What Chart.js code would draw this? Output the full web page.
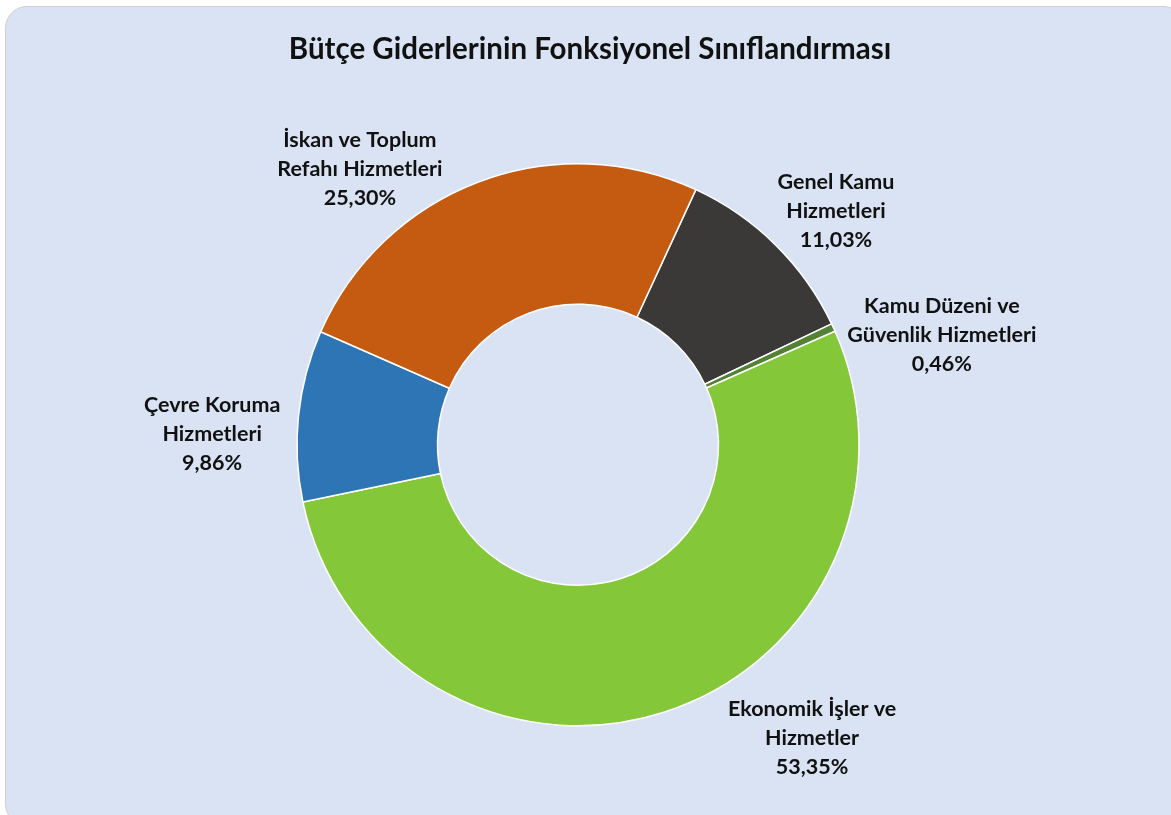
<!DOCTYPE html>
<html lang="tr">
<head>
<meta charset="utf-8">
<title>Bütçe Giderlerinin Fonksiyonel Sınıflandırması</title>
<script src="https://cdn.jsdelivr.net/npm/chart.js@4/dist/chart.umd.min.js"></script>
<style>
  html, body { margin: 0; padding: 0; background: #ffffff; }
  .wrap { position: relative; width: 1171px; height: 815px; overflow: hidden; }
  .panel {
    position: absolute; left: 5px; top: 6px; width: 1180px; height: 820px;
    box-sizing: border-box; background: #dae3f3;
    border: 1.5px solid #d0d0d0; border-radius: 22px;
  }
  canvas { position: absolute; left: 0; top: 0; }
</style>
</head>
<body>
<div class="wrap">
  <div class="panel"></div>
  <canvas id="chart" width="1171" height="815"></canvas>
</div>
<script>
const chartTitle = 'Bütçe Giderlerinin Fonksiyonel Sınıflandırması';

const categories = [
  ['Genel Kamu', 'Hizmetleri'],
  ['Kamu Düzeni ve', 'Güvenlik Hizmetleri'],
  ['Ekonomik İşler ve', 'Hizmetler'],
  ['Çevre Koruma', 'Hizmetleri'],
  ['İskan ve Toplum', 'Refahı Hizmetleri'],
];
const shares = [11.03, 0.46, 53.35, 9.86, 25.30];
const sliceColors = ['#3b3838', '#548235', '#84c83a', '#2e75b6', '#c55a11'];

// where each label block sits, as (dx, dy) in units of the outer radius from the centre
const labelSpots = [
  [0.918, -0.833],
  [1.295, -0.391],
  [0.833, 1.043],
  [-1.302, -0.039],
  [-0.776, -0.982],
];

const fontFamily = 'Lato, "Open Sans", sans-serif';

const pct = v => v.toFixed(2).replace('.', ',') + '%';

const titlePlugin = {
  id: 'panelTitle',
  afterDraw(chart) {
    const ctx = chart.ctx;
    ctx.save();
    ctx.font = 'bold 29.5px ' + fontFamily;
    ctx.fillStyle = '#111111';
    ctx.textAlign = 'center';
    ctx.textBaseline = 'middle';
    ctx.fillText(chartTitle, 590, 49);
    ctx.restore();
  }
};

const sliceLabels = {
  id: 'sliceLabels',
  afterDatasetsDraw(chart) {
    const ctx = chart.ctx;
    const meta = chart.getDatasetMeta(0);
    const lineGap = 29;
    ctx.save();
    ctx.font = 'bold 21.5px ' + fontFamily;
    ctx.fillStyle = '#111111';
    ctx.textAlign = 'center';
    ctx.textBaseline = 'middle';
    meta.data.forEach((arc, i) => {
      const r = arc.outerRadius;
      const cx = arc.x + labelSpots[i][0] * r;
      const cy = arc.y + labelSpots[i][1] * r;
      const lines = categories[i].concat([pct(shares[i])]);
      const top = cy - (lines.length - 1) * lineGap / 2;
      lines.forEach((t, k) => ctx.fillText(t, cx, top + k * lineGap));
    });
    ctx.restore();
  }
};

new Chart(document.getElementById('chart'), {
  type: 'doughnut',
  data: {
    labels: categories,
    datasets: [{
      data: shares,
      backgroundColor: sliceColors,
      borderColor: '#ffffff',
      borderWidth: 1.5,
      hoverOffset: 0,
    }],
  },
  options: {
    responsive: false,
    animation: false,
    cutout: '50%',
    rotation: 24.8,
    layout: { padding: { top: 163, bottom: 88.5, left: 0, right: 15 } },
    plugins: {
      legend: { display: false },
      tooltip: { enabled: false },
      title: { display: false },
    },
  },
  plugins: [sliceLabels, titlePlugin],
});
</script>
</body>
</html>
